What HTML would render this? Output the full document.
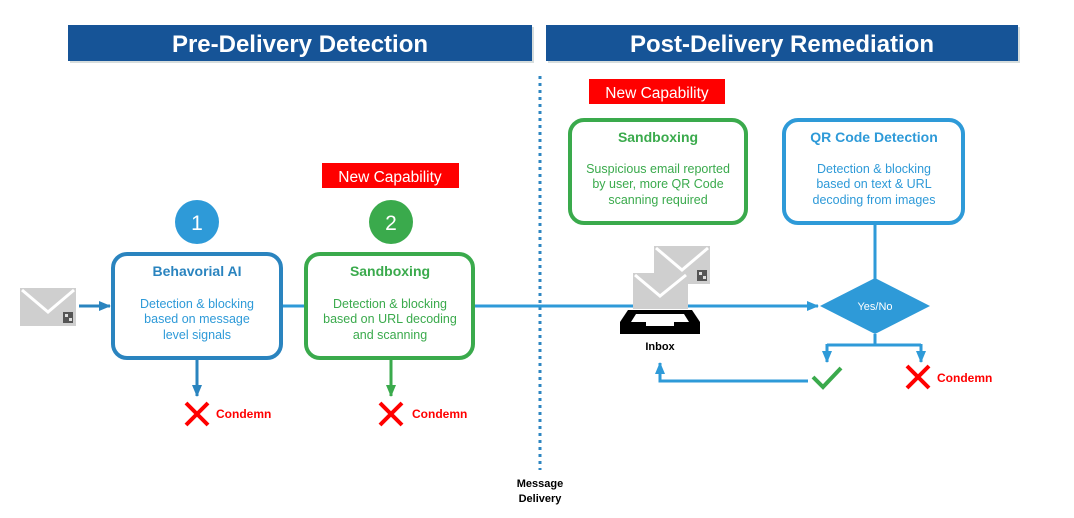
<!DOCTYPE html>
<html><head><meta charset="utf-8"><style>
html,body{margin:0;padding:0;background:#fff;}
svg{display:block;font-family:"Liberation Sans",Arial,sans-serif;}
</style></head><body>
<svg width="1074" height="518" viewBox="0 0 1074 518" xmlns="http://www.w3.org/2000/svg">
<defs>
<marker id="ab2" markerWidth="12" markerHeight="10" refX="11" refY="5" orient="auto" markerUnits="userSpaceOnUse"><path d="M0,0 L12,5 L0,10 Z" fill="#2e9ad8"/></marker>
<marker id="ag" markerWidth="12" markerHeight="10" refX="11" refY="5" orient="auto" markerUnits="userSpaceOnUse"><path d="M0,0 L12,5 L0,10 Z" fill="#3aaa4c"/></marker>
<marker id="ab3" markerWidth="12" markerHeight="10" refX="11" refY="5" orient="auto" markerUnits="userSpaceOnUse"><path d="M0,0 L12,5 L0,10 Z" fill="#2a84bf"/></marker>
<g id="env">
<rect x="0" y="0" width="56" height="38" fill="#cfcfcf"/>
<path d="M2,2 L28,24 L54,2" fill="none" stroke="#fff" stroke-width="3"/>
<rect x="43" y="24" width="10" height="11" fill="#555"/>
<rect x="45" y="26" width="3" height="3" fill="#ddd"/><rect x="49" y="30" width="3" height="3" fill="#ddd"/>
</g>
</defs>
<rect x="70" y="27" width="464" height="36" fill="#9aa" opacity="0.4"/>
<rect x="68" y="25" width="464" height="36" fill="#165497"/>
<text x="300" y="52" text-anchor="middle" fill="#fff" font-size="24" font-weight="bold">Pre-Delivery Detection</text>
<rect x="548" y="27" width="472" height="36" fill="#9aa" opacity="0.4"/>
<rect x="546" y="25" width="472" height="36" fill="#165497"/>
<text x="782" y="52" text-anchor="middle" fill="#fff" font-size="24" font-weight="bold">Post-Delivery Remediation</text>
<line x1="540" y1="76" x2="540" y2="470" stroke="#2e86c1" stroke-width="3" stroke-dasharray="3,4"/>
<text x="540" y="487" text-anchor="middle" font-size="11" font-weight="bold">Message</text>
<text x="540" y="502" text-anchor="middle" font-size="11" font-weight="bold">Delivery</text>
<use href="#env" x="20" y="288"/>
<line x1="79" y1="306" x2="110" y2="306" stroke="#2a84bf" stroke-width="3" marker-end="url(#ab3)"/>
<line x1="282" y1="306" x2="305" y2="306" stroke="#2e9ad8" stroke-width="3"/>
<line x1="474" y1="306" x2="818" y2="306" stroke="#2e9ad8" stroke-width="3" marker-end="url(#ab2)"/>
<rect x="113" y="254" width="168" height="104" rx="14" fill="#fff" stroke="#2a84bf" stroke-width="4"/>
<text x="197" y="276" text-anchor="middle" fill="#2a84bf" font-size="14" font-weight="bold">Behavorial AI</text>
<text x="197" y="308" text-anchor="middle" fill="#2e9ad8" font-size="12.5">Detection &amp; blocking</text>
<text x="197" y="323" text-anchor="middle" fill="#2e9ad8" font-size="12.5">based on message</text>
<text x="197" y="339" text-anchor="middle" fill="#2e9ad8" font-size="12.5">level signals</text>
<circle cx="197" cy="222" r="22" fill="#2e9ad8"/>
<text x="197" y="230" text-anchor="middle" fill="#fff" font-size="21">1</text>
<line x1="197" y1="360" x2="197" y2="396" stroke="#2a84bf" stroke-width="3" marker-end="url(#ab3)"/>
<rect x="306" y="254" width="167" height="104" rx="14" fill="#fff" stroke="#3aaa4c" stroke-width="4"/>
<text x="390" y="276" text-anchor="middle" fill="#3aaa4c" font-size="14" font-weight="bold">Sandboxing</text>
<text x="390" y="308" text-anchor="middle" fill="#3aaa4c" font-size="12.5">Detection &amp; blocking</text>
<text x="390" y="323" text-anchor="middle" fill="#3aaa4c" font-size="12.5">based on URL decoding</text>
<text x="390" y="339" text-anchor="middle" fill="#3aaa4c" font-size="12.5">and scanning</text>
<circle cx="391" cy="222" r="22" fill="#3aaa4c"/>
<text x="391" y="230" text-anchor="middle" fill="#fff" font-size="21">2</text>
<line x1="391" y1="360" x2="391" y2="396" stroke="#3aaa4c" stroke-width="3" marker-end="url(#ag)"/>
<rect x="322" y="163" width="137" height="25" fill="#f00"/>
<text x="390" y="182" text-anchor="middle" fill="#fff" font-size="15.5">New Capability</text>
<rect x="589" y="79" width="136" height="25" fill="#f00"/>
<text x="657" y="98" text-anchor="middle" fill="#fff" font-size="15.5">New Capability</text>
<g stroke="#f00" stroke-width="4"><path d="M186,403 L208,425 M208,403 L186,425"/><path d="M380,403 L402,425 M402,403 L380,425"/><path d="M907,366 L929,388 M929,366 L907,388"/></g>
<text x="216" y="418" fill="#f00" font-size="12" font-weight="bold">Condemn</text>
<text x="412" y="418" fill="#f00" font-size="12" font-weight="bold">Condemn</text>
<text x="937" y="382" fill="#f00" font-size="12" font-weight="bold">Condemn</text>
<rect x="570" y="120" width="176" height="103" rx="14" fill="#fff" stroke="#3aaa4c" stroke-width="4"/>
<text x="658" y="142" text-anchor="middle" fill="#3aaa4c" font-size="14" font-weight="bold">Sandboxing</text>
<text x="658" y="173" text-anchor="middle" fill="#3aaa4c" font-size="12.5">Suspicious email reported</text>
<text x="658" y="188" text-anchor="middle" fill="#3aaa4c" font-size="12.5">by user, more QR Code</text>
<text x="658" y="204" text-anchor="middle" fill="#3aaa4c" font-size="12.5">scanning required</text>
<rect x="784" y="120" width="179" height="103" rx="14" fill="#fff" stroke="#2e9ad8" stroke-width="4"/>
<text x="874" y="142" text-anchor="middle" fill="#2e9ad8" font-size="14" font-weight="bold">QR Code Detection</text>
<text x="874" y="173" text-anchor="middle" fill="#2e9ad8" font-size="12.5">Detection &amp; blocking</text>
<text x="874" y="188" text-anchor="middle" fill="#2e9ad8" font-size="12.5">based on text &amp; URL</text>
<text x="874" y="204" text-anchor="middle" fill="#2e9ad8" font-size="12.5">decoding from images</text>
<line x1="875" y1="224" x2="875" y2="280" stroke="#2e9ad8" stroke-width="3"/>
<path d="M820,306 L875,278 L930,306 L875,334 Z" fill="#2e9ad8"/>
<text x="875" y="310" text-anchor="middle" fill="#fff" font-size="11">Yes/No</text>
<path d="M875,334 L875,345 M827,345 L921,345" stroke="#2e9ad8" stroke-width="3" fill="none"/>
<line x1="827" y1="344" x2="827" y2="362" stroke="#2e9ad8" stroke-width="3" marker-end="url(#ab2)"/>
<line x1="921" y1="344" x2="921" y2="362" stroke="#2e9ad8" stroke-width="3" marker-end="url(#ab2)"/>
<path d="M813,377 L823,387 L841,368" fill="none" stroke="#3aaa4c" stroke-width="4"/>
<path d="M808,381 L660,381 L660,363" fill="none" stroke="#2e9ad8" stroke-width="3" marker-end="url(#ab2)"/>
<path d="M620,334 L620,322 L628,310 L692,310 L700,322 L700,334 Z" fill="#000"/>
<path d="M631,322 L636,314 L684,314 L689,322 L674,322 L674,326 L646,326 L646,322 Z" fill="#fff"/>
<use href="#env" x="654" y="246"/>
<g transform="translate(633,273)"><rect x="0" y="0" width="55" height="36" fill="#cfcfcf"/><path d="M2,2 L27,23 L53,2" fill="none" stroke="#fff" stroke-width="3"/></g>
<text x="660" y="350" text-anchor="middle" font-size="11" font-weight="bold">Inbox</text>
</svg>
</body></html>
